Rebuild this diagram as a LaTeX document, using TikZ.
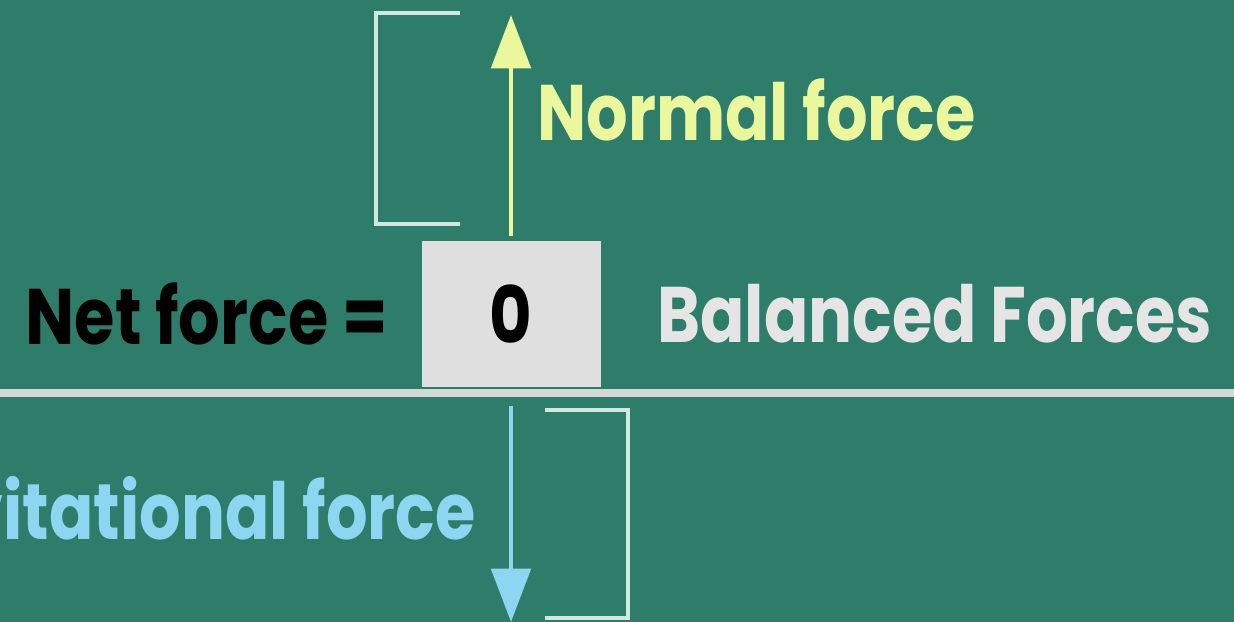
\documentclass[tikz,border=0pt]{standalone}
\usepackage{fontspec}
\setmainfont{Poppins}[FakeStretch=0.83]
\usepackage{tikz}
\usetikzlibrary{arrows.meta,positioning,calc}
\definecolor{boardTeal}{HTML}{2E7D6B}
\definecolor{normYellow}{HTML}{EAF79C}
\definecolor{gravBlue}{HTML}{8DD6F2}
\definecolor{brkGray}{HTML}{CFE9E0}
\definecolor{lineGray}{HTML}{D2D9D6}

\begin{document}
\begin{tikzpicture}[x=0.025cm, y=-0.025cm,
  lbl/.style={font=\fontsize{56}{60}\selectfont\bfseries, inner sep=0pt},
  force/.style={line width=3pt, -{Triangle[length=38pt, width=28pt]}},
  brk/.style={draw=brkGray, line width=3.5pt}]
\useasboundingbox (0,0) rectangle (1234,622);
\clip (0,0) rectangle (1234,622);
\fill[boardTeal] (0,0) rectangle (1234,622);
% ground line and the result box
\draw[lineGray, line width=5.5pt] (0,393) -- (1234,393);
\node[fill=gray!25, minimum width=179*0.025cm, minimum height=145*0.025cm, inner sep=0pt] (zero) at (511,314) {};
\node[lbl, text=black] at (zero) {0};
\node[lbl, text=black, anchor=east] (net) at (388,314) {Net force =};
\node[lbl, text=gray!20, anchor=west] (bal) at (657,314) {Balanced Forces};
% forces
\coordinate (ntop) at (511,15);
\coordinate (gbot) at (511,622);
\draw[force, normYellow] (511,236) -- (ntop);
\draw[force, gravBlue] (511,406) -- (gbot);
\node[lbl, text=normYellow, anchor=west] (normal) at (537,110) {Normal force};
\node[lbl, text=gravBlue, anchor=east] (grav) at (476,508) {Gravitational force};
% brackets
\draw[brk] (460,13) -- (376,13) -- (376,224) -- (460,224);
\draw[brk] (545,410) -- (628,410) -- (628,618) -- (545,618);
\end{tikzpicture}
\end{document}
